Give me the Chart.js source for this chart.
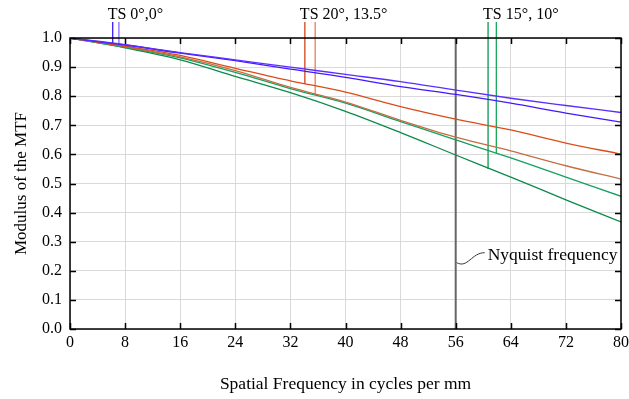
<!DOCTYPE html>
<html>
<head>
<meta charset="utf-8">
<script src="https://cdn.jsdelivr.net/npm/chart.js@4.4.1/dist/chart.umd.min.js"></script>
<style>
    html, body { margin: 0; padding: 0; background: #fff; }
</style>
</head>
<body>
<canvas id="mtf_chart" width="629" height="399"></canvas>
<script>
const mtf_chart = document.querySelector('#mtf_chart')

// spatial frequency (cycles/mm)
const freq = [0, 8, 16, 24, 32, 40, 48, 56, 64, 72, 80]

// TS 0°,0°
const blue_t = [1.0, 0.977, 0.950, 0.925, 0.900, 0.875, 0.850, 0.821, 0.793, 0.768, 0.744]
const blue_s = [1.0, 0.976, 0.948, 0.922, 0.893, 0.865, 0.833, 0.806, 0.776, 0.742, 0.711]
// TS 20°, 13.5°
const orange_t = [1.0, 0.972, 0.940, 0.896, 0.853, 0.814, 0.764, 0.721, 0.684, 0.639, 0.601]
const orange_s = [1.0, 0.970, 0.935, 0.888, 0.830, 0.780, 0.717, 0.659, 0.612, 0.561, 0.515]
// TS 15°, 10°
const green_t = [1.0, 0.968, 0.932, 0.882, 0.826, 0.776, 0.713, 0.650, 0.588, 0.522, 0.456]
const green_s = [1.0, 0.966, 0.925, 0.868, 0.812, 0.748, 0.675, 0.598, 0.522, 0.444, 0.368]

// field labels and the little marker lines that tie them to the curves
const field_labels = ['TS 0°,0°', 'TS 20°, 13.5°', 'TS 15°, 10°']
const marker_freq = [6.2, 7.1, 34.1, 35.6, 60.7, 61.9]
const marker_value = [0.979, 0.978, 0.842, 0.804, 0.550, 0.603]
const marker_top = 1.055

const nyquist = 56
const nyquist_label_y = 0.252

const y_ticks = [0, 0.1, 0.2, 0.3, 0.4, 0.5, 0.6, 0.7, 0.8, 0.9, 1.0]

const serif = "'Liberation Serif', 'Times New Roman', serif"

const toPoints = vals => vals.map((v, i) => ({ x: freq[i], y: v }))

const curve = (vals, color) => ({
    data: toPoints(vals),
    borderColor: color,
    borderWidth: 1.3,
    pointRadius: 0,
    cubicInterpolationMode: 'monotone',
    fill: false
})

const marker_colors = ['#3a1cff', '#8a68ff', '#cf4418', '#f07a5a', '#0c9650', '#18a85a']
const markers = marker_freq.map((f, i) => ({
    data: [{ x: f, y: marker_value[i] }, { x: f, y: marker_top }],
    borderColor: marker_colors[i],
    borderWidth: 1.3,
    pointRadius: 0,
    clip: false
}))

const data_mtf = {
    datasets: [
        curve(blue_t, '#5a2eff'),
        curve(blue_s, '#4418ff'),
        curve(orange_t, '#dc4c18'),
        curve(orange_s, '#c46e42'),
        curve(green_t, '#14a060'),
        curve(green_s, '#0c8a4a'),
        {
            data: [{ x: nyquist, y: 0 }, { x: nyquist, y: 1 }],
            borderColor: '#666666',
            borderWidth: 2,
            pointRadius: 0
        },
        ...markers
    ]
}

const framePlugin = {
    id: 'frame',
    afterDraw(chart) {
        const { ctx, chartArea: a, scales: { x, y } } = chart
        ctx.save()
        ctx.strokeStyle = '#000'
        ctx.lineWidth = 1.5
        // inside ticks on all four sides
        ctx.beginPath()
        x.ticks.forEach(t => {
            const px = Math.round(x.getPixelForValue(t.value)) + 0.5
            ctx.moveTo(px, a.bottom); ctx.lineTo(px, a.bottom - 6)
            ctx.moveTo(px, a.top); ctx.lineTo(px, a.top + 6)
        })
        y.ticks.forEach(t => {
            const py = Math.round(y.getPixelForValue(t.value)) + 0.5
            ctx.moveTo(a.left, py); ctx.lineTo(a.left + 6, py)
            ctx.moveTo(a.right, py); ctx.lineTo(a.right - 6, py)
        })
        ctx.stroke()
        ctx.strokeRect(a.left, a.top, a.right - a.left, a.bottom - a.top)

        // field labels above the marker pairs
        ctx.fillStyle = '#000'
        ctx.font = '16px ' + serif
        ctx.textAlign = 'left'
        ctx.textBaseline = 'alphabetic'
        field_labels.forEach((txt, i) => {
            const px = x.getPixelForValue(marker_freq[i * 2]) - 5
            ctx.fillText(txt, px, y.getPixelForValue(marker_top) - 3)
        })

        // Nyquist label with its little leader
        const nx = x.getPixelForValue(nyquist)
        const ny = y.getPixelForValue(nyquist_label_y)
        ctx.lineWidth = 1
        ctx.strokeStyle = '#333'
        ctx.beginPath()
        ctx.moveTo(nx + 1, ny + 7)
        ctx.bezierCurveTo(nx + 12, ny + 13, nx + 16, ny - 3, nx + 29, ny - 3)
        ctx.stroke()
        ctx.font = '17.5px ' + serif
        ctx.textBaseline = 'middle'
        ctx.fillText('Nyquist frequency', nx + 32, ny)
        ctx.restore()
    }
}

const options_mtf = {
    responsive: false,
    animation: false,
    layout: {
        padding: { top: 38, right: 8, left: 0, bottom: 0 }
    },
    plugins: {
        legend: false,
        tooltip: { enabled: false }
    },
    scales: {
        x: {
            type: 'linear',
            min: 0,
            max: 80,
            afterFit: s => {
                s.height = 70
                s.paddingLeft = 0
                s.paddingRight = 0
            },
            ticks: {
                stepSize: 8,
                color: '#000',
                padding: 4,
                font: { family: serif, size: 16 }
            },
            grid: {
                color: '#d9d9d9',
                drawTicks: false
            },
            border: { display: false },
            title: {
                display: true,
                text: 'Spatial Frequency in cycles per mm',
                color: '#000',
                font: { family: serif, size: 17.5 },
                padding: { top: 0, bottom: 4 }
            }
        },
        y: {
            type: 'linear',
            min: 0,
            max: 1,
            afterFit: s => { s.width = 70 },
            afterBuildTicks: s => { s.ticks = y_ticks.map(v => ({ value: v })) },
            ticks: {
                color: '#000',
                padding: 8,
                font: { family: serif, size: 16 },
                callback: value => value.toFixed(1)
            },
            grid: {
                color: '#d9d9d9',
                drawTicks: false
            },
            border: { display: false },
            title: {
                display: true,
                text: 'Modulus of the MTF',
                color: '#000',
                font: { family: serif, size: 17 },
                padding: { top: 11, bottom: 0 }
            }
        }
    }
}

new Chart(mtf_chart, {
    type: 'line',
    data: data_mtf,
    options: options_mtf,
    plugins: [framePlugin]
})
</script>
</body>
</html>
